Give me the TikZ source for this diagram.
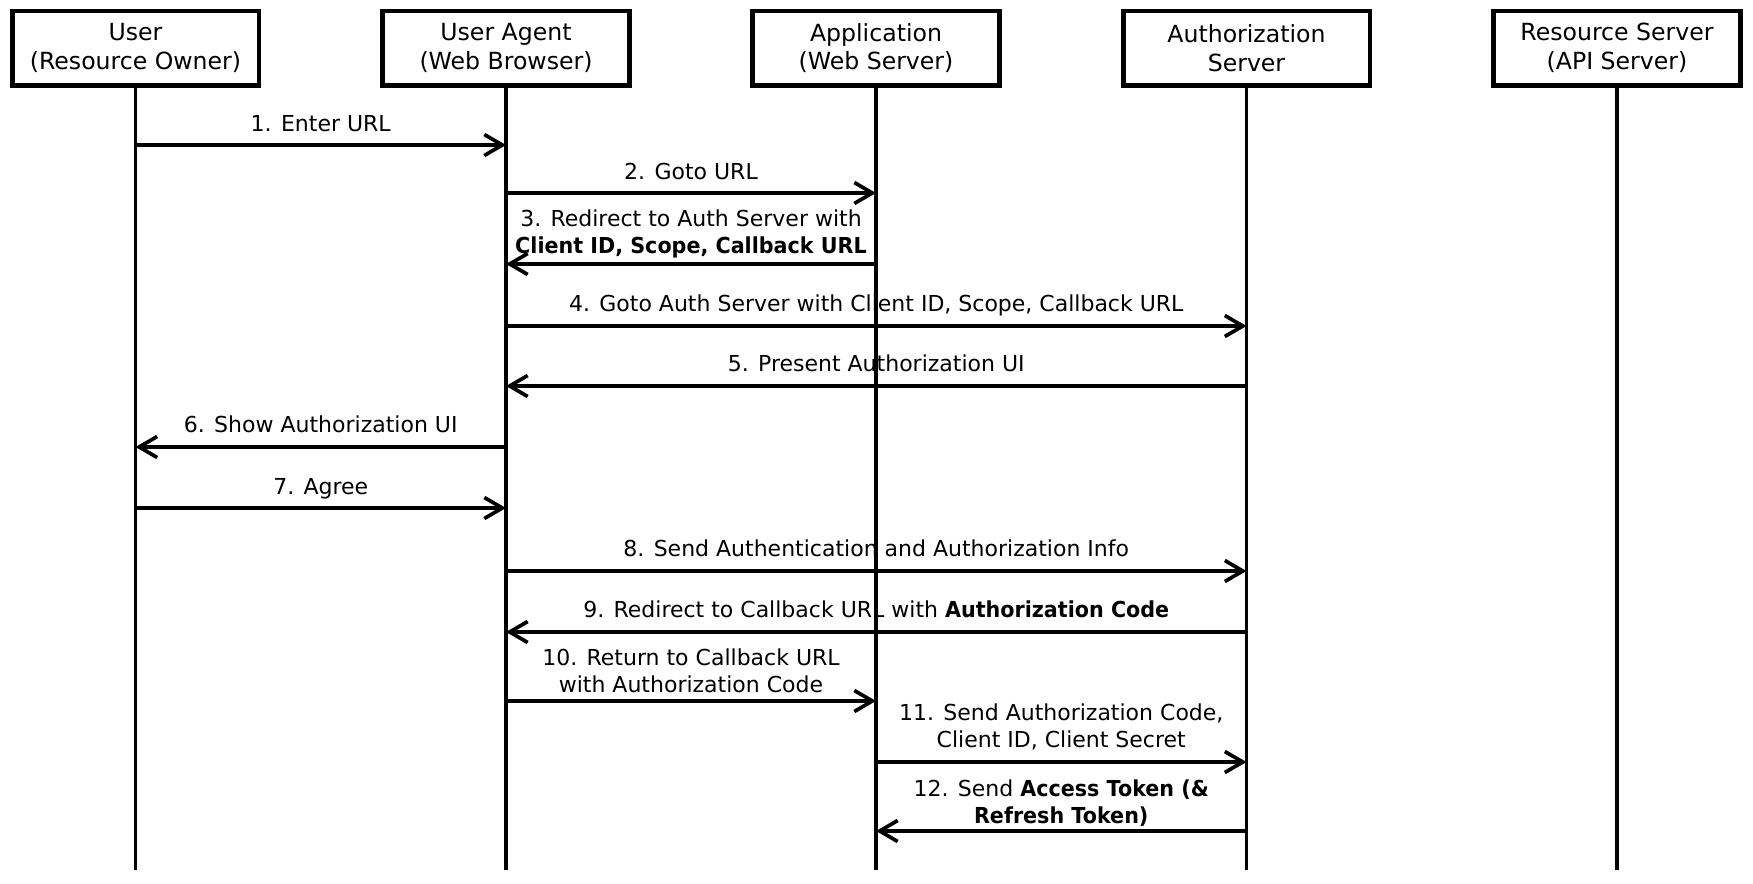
\documentclass[tikz,border=0pt]{standalone}
\usepackage{fontspec}
\setmainfont{DejaVu Sans}[BoldFeatures={FakeStretch=0.94}]
\usetikzlibrary{arrows.meta,positioning}

\begin{document}
\begin{tikzpicture}[x=0.5pt,y=-0.5pt,
  actor/.style={rectangle,draw=black,line width=2.4pt,minimum width=123.4pt,minimum height=37.1pt,align=center,inner sep=0pt,font=\fontsize{11.8}{14.4}\selectfont},
  life/.style={line width=1.9pt},
  msg/.style={line width=1.85pt,-{Straight Barb[length=9pt,width=10.5pt]}},
  lbl/.style={midway,anchor=base,align=center,inner sep=0pt,font=\fontsize{11}{13.5}\selectfont}]
  \useasboundingbox (0,0) rectangle (1753,884);

  % participants
  \node[actor] (user) at (135.5,48) {User\\(Resource Owner)};
  \node[actor] (ua) at (506,48) {User Agent\\(Web Browser)};
  \node[actor] (app) at (876,48) {Application\\(Web Server)};
  \node[actor] (as) at (1246.5,48) {Authorization\\Server};
  \node[actor] (rs) at (1617,48) {Resource Server\\(API Server)};

  % lifelines
  \foreach \p in {user,ua,app,as,rs}
    \draw[life] (\p.south) -- (\p.south |- 0,870);

  % messages
  \draw[msg] (user.south |- 0,145) -- node[lbl,yshift=7pt] {1. Enter URL} (ua.south |- 0,145);
  \draw[msg] (ua.south |- 0,193) -- node[lbl,yshift=7pt] {2. Goto URL} (app.south |- 0,193);
  \draw[msg] (app.south |- 0,264) -- node[lbl,yshift=5.5pt] {3. Redirect to Auth Server with\\\textbf{Client ID, Scope, Callback URL}} (ua.south |- 0,264);
  \draw[msg] (ua.south |- 0,326) -- node[lbl,yshift=7.5pt] {4. Goto Auth Server with Client ID, Scope, Callback URL} (as.south |- 0,326);
  \draw[msg] (as.south |- 0,386) -- node[lbl,yshift=7.5pt] {5. Present Authorization UI} (ua.south |- 0,386);
  \draw[msg] (ua.south |- 0,447) -- node[lbl,yshift=7.5pt] {6. Show Authorization UI} (user.south |- 0,447);
  \draw[msg] (user.south |- 0,508) -- node[lbl,yshift=7pt] {7. Agree} (ua.south |- 0,508);
  \draw[msg] (ua.south |- 0,571) -- node[lbl,yshift=7.5pt] {8. Send Authentication and Authorization Info} (as.south |- 0,571);
  \draw[msg] (as.south |- 0,632) -- node[lbl,yshift=7.5pt] {9. Redirect to Callback URL with \textbf{Authorization Code}} (ua.south |- 0,632);
  \draw[msg] (ua.south |- 0,701) -- node[lbl,yshift=4.5pt] {10. Return to Callback URL\\with Authorization Code} (app.south |- 0,701);
  \draw[msg] (app.south |- 0,762) -- node[lbl,yshift=7.5pt] {11. Send Authorization Code,\\Client ID, Client Secret} (as.south |- 0,762);
  \draw[msg] (as.south |- 0,831) -- node[lbl,yshift=4pt] {12. Send \textbf{Access Token (\&}\\\textbf{Refresh Token)}} (app.south |- 0,831);

\end{tikzpicture}
\end{document}
